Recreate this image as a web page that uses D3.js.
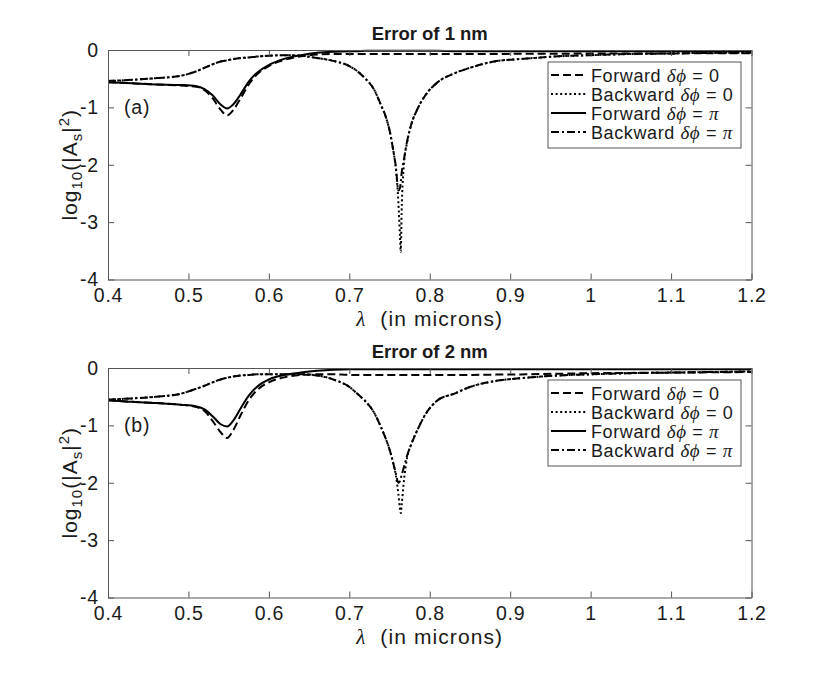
<!DOCTYPE html>
<html><head><meta charset="utf-8">
<script src="https://cdn.jsdelivr.net/npm/d3@7"></script>
<style>
body{margin:0;background:#fff}
text{font-family:"Liberation Sans",Arial,Helvetica,sans-serif;fill:#1a1a1a}
</style>
</head><body>
<svg id="chart" width="830" height="673"></svg>
<script>
// ---------- data ----------
const wavelengths = [0.40,0.43,0.46,0.49,0.51,0.52,0.53,0.54,0.548,0.555,0.565,0.575,0.585,0.60,0.62,0.64,0.66,0.68,0.70,0.71,0.72,0.73,0.74,0.745,0.75,0.755,0.758,0.761,0.763,0.764,0.765,0.768,0.772,0.777,0.785,0.795,0.81,0.83,0.85,0.88,0.92,0.96,1.0,1.05,1.1,1.15,1.2];

const panelTitles = ["Error of 1 nm", "Error of 2 nm"];
const panelTags = ["(a)", "(b)"];
const seriesNames = ["Forward", "Backward", "Forward", "Backward"];
const seriesPhases = ["0", "0", "\u03C0", "\u03C0"];
const xTicks = [0.4,0.5,0.6,0.7,0.8,0.9,1.0,1.1,1.2];
const yTicks = [0,-1,-2,-3,-4];

// panel (a): error of 1 nm
const fwd0A  = [-0.56,-0.58,-0.60,-0.62,-0.64,-0.70,-0.84,-1.04,-1.14,-1.06,-0.84,-0.60,-0.43,-0.28,-0.17,-0.11,-0.08,-0.07,-0.07,-0.07,-0.07,-0.07,-0.07,-0.07,-0.07,-0.07,-0.07,-0.07,-0.07,-0.07,-0.07,-0.07,-0.07,-0.07,-0.07,-0.07,-0.07,-0.07,-0.07,-0.07,-0.065,-0.065,-0.06,-0.06,-0.06,-0.055,-0.055];
const bwd0A  = [-0.54,-0.52,-0.49,-0.45,-0.37,-0.31,-0.25,-0.20,-0.18,-0.16,-0.14,-0.13,-0.115,-0.10,-0.09,-0.10,-0.14,-0.19,-0.28,-0.37,-0.50,-0.67,-0.98,-1.15,-1.40,-1.78,-2.08,-2.65,-3.25,-3.52,-2.85,-1.98,-1.60,-1.30,-1.02,-0.78,-0.56,-0.41,-0.31,-0.20,-0.15,-0.11,-0.09,-0.07,-0.06,-0.05,-0.05];
const fwdPiA = [-0.56,-0.58,-0.60,-0.61,-0.63,-0.68,-0.79,-0.95,-1.02,-0.96,-0.77,-0.55,-0.40,-0.26,-0.15,-0.09,-0.05,-0.03,-0.02,-0.02,-0.015,-0.015,-0.015,-0.015,-0.015,-0.015,-0.015,-0.015,-0.015,-0.015,-0.015,-0.015,-0.015,-0.015,-0.015,-0.015,-0.015,-0.02,-0.02,-0.02,-0.02,-0.02,-0.02,-0.02,-0.02,-0.02,-0.02];
const bwdPiA = [-0.54,-0.52,-0.49,-0.45,-0.37,-0.31,-0.25,-0.20,-0.18,-0.16,-0.14,-0.13,-0.115,-0.10,-0.09,-0.10,-0.14,-0.19,-0.28,-0.37,-0.50,-0.67,-0.98,-1.15,-1.40,-1.78,-2.05,-2.45,-2.40,-2.30,-2.15,-1.90,-1.58,-1.30,-1.02,-0.78,-0.56,-0.41,-0.31,-0.20,-0.15,-0.11,-0.09,-0.07,-0.06,-0.05,-0.05];

// panel (b): error of 2 nm
const fwd0B  = [-0.56,-0.59,-0.61,-0.64,-0.68,-0.75,-0.92,-1.12,-1.22,-1.10,-0.82,-0.56,-0.39,-0.25,-0.16,-0.12,-0.11,-0.11,-0.12,-0.12,-0.12,-0.12,-0.12,-0.12,-0.12,-0.12,-0.12,-0.12,-0.12,-0.12,-0.12,-0.12,-0.12,-0.12,-0.12,-0.12,-0.12,-0.12,-0.12,-0.115,-0.11,-0.10,-0.09,-0.085,-0.08,-0.075,-0.07];
const bwd0B  = [-0.55,-0.53,-0.50,-0.45,-0.36,-0.31,-0.25,-0.20,-0.17,-0.15,-0.13,-0.12,-0.11,-0.11,-0.11,-0.11,-0.13,-0.20,-0.33,-0.45,-0.58,-0.76,-1.05,-1.22,-1.42,-1.68,-1.88,-2.20,-2.45,-2.53,-2.40,-1.95,-1.55,-1.33,-1.07,-0.80,-0.56,-0.45,-0.33,-0.23,-0.17,-0.13,-0.11,-0.09,-0.08,-0.07,-0.06];
const fwdPiB = [-0.56,-0.59,-0.61,-0.64,-0.67,-0.72,-0.84,-0.98,-1.02,-0.93,-0.70,-0.48,-0.33,-0.20,-0.12,-0.08,-0.05,-0.03,-0.02,-0.02,-0.02,-0.02,-0.02,-0.02,-0.02,-0.02,-0.02,-0.02,-0.02,-0.02,-0.02,-0.02,-0.02,-0.02,-0.02,-0.02,-0.02,-0.02,-0.02,-0.02,-0.02,-0.02,-0.02,-0.02,-0.02,-0.02,-0.02];
const bwdPiB = [-0.55,-0.53,-0.50,-0.45,-0.36,-0.31,-0.25,-0.20,-0.17,-0.15,-0.13,-0.12,-0.11,-0.11,-0.11,-0.11,-0.13,-0.20,-0.33,-0.45,-0.58,-0.76,-1.05,-1.22,-1.42,-1.68,-1.85,-2.00,-1.97,-1.92,-1.87,-1.72,-1.52,-1.33,-1.07,-0.80,-0.56,-0.45,-0.33,-0.23,-0.17,-0.13,-0.11,-0.09,-0.08,-0.07,-0.06];

const panelSeries = [[fwd0A, bwd0A, fwdPiA, bwdPiA], [fwd0B, bwd0B, fwdPiB, bwdPiB]];

// ---------- styling / layout ----------
const dashes = ["8,4", "2,2.6", null, "8,3,2,3"];
const plotLeft = 108, plotRight = 751.5, plotH = 229.5;
const panelTops = [50, 368];
const sans = '"Liberation Sans",Arial,sans-serif';
const serif = '"Liberation Serif","DejaVu Serif",serif';

const svg = d3.select("#chart");
svg.append("rect").attr("width", 830).attr("height", 673).attr("fill", "#fff");

const x = d3.scaleLinear().domain([0.4, 1.2]).range([plotLeft, plotRight]);
const axisColor = "#555";

panelTops.forEach((top, p) => {
  const y = d3.scaleLinear().domain([-4, 0]).range([top + plotH, top]);
  const g = svg.append("g");

  const clipId = "clip" + p;
  svg.append("clipPath").attr("id", clipId).append("rect")
    .attr("x", plotLeft).attr("y", top - 1).attr("width", plotRight - plotLeft).attr("height", plotH + 2);

  // curves
  const line = d3.line().x(d => x(d[0])).y(d => y(d[1])).curve(d3.curveMonotoneX);
  const curves = g.append("g").attr("clip-path", `url(#${clipId})`);
  panelSeries[p].forEach((vals, i) => {
    curves.append("path")
      .datum(wavelengths.map((w, k) => [w, vals[k]]))
      .attr("d", line)
      .attr("fill", "none")
      .attr("stroke", "#000")
      .attr("stroke-width", 2)
      .attr("stroke-dasharray", dashes[i]);
  });

  // axes (ticks inward, box)
  const fmt = d => String(d);
  const styleAxis = sel => {
    sel.selectAll(".domain").attr("stroke", axisColor).attr("stroke-width", 1);
    sel.selectAll(".tick line").attr("stroke", axisColor).attr("stroke-width", 1);
    sel.selectAll(".tick text").attr("font-family", sans).attr("font-size", 19.5)
      .attr("letter-spacing", 0.8).attr("fill", "#1a1a1a");
  };
  g.append("g").attr("transform", `translate(0,${top + plotH})`)
    .call(d3.axisBottom(x).tickValues(xTicks).tickFormat(fmt).tickSizeInner(-6).tickSizeOuter(0).tickPadding(8.5))
    .call(styleAxis);
  g.append("g").attr("transform", `translate(0,${top})`)
    .call(d3.axisTop(x).tickValues(xTicks).tickFormat("").tickSizeInner(-6).tickSizeOuter(0))
    .call(styleAxis);
  g.append("g").attr("transform", `translate(${plotLeft},0)`)
    .call(d3.axisLeft(y).tickValues(yTicks).tickFormat(fmt).tickSizeInner(-6).tickSizeOuter(0).tickPadding(9))
    .call(styleAxis);
  g.append("g").attr("transform", `translate(${plotRight},0)`)
    .call(d3.axisRight(y).tickValues(yTicks).tickFormat("").tickSizeInner(-6).tickSizeOuter(0))
    .call(styleAxis);

  // title
  g.append("text").attr("x", (plotLeft + plotRight) / 2).attr("y", top - 10)
    .attr("text-anchor", "middle").attr("font-family", sans).attr("font-size", 18.5).attr("font-weight", "bold")
    .text(panelTitles[p]);

  // x label
  const xl = g.append("text").attr("x", (plotLeft + plotRight) / 2).attr("y", top + plotH + 46)
    .attr("text-anchor", "middle").attr("font-family", sans).attr("font-size", 21).attr("letter-spacing", 1.1);
  xl.append("tspan").attr("font-family", serif).attr("font-style", "italic").text("\u03BB");
  xl.append("tspan").text("\u00A0\u00A0(in microns)");

  // y label
  const cy = top + plotH / 2;
  const yl = g.append("text").attr("transform", `translate(77,${cy}) rotate(-90)`)
    .attr("text-anchor", "middle").attr("font-family", sans).attr("font-size", 21).attr("letter-spacing", 1);
  yl.append("tspan").text("log");
  yl.append("tspan").attr("font-size", 15).attr("dy", 5).text("10");
  yl.append("tspan").attr("dy", -5).text("(|A");
  yl.append("tspan").attr("font-size", 15).attr("dy", 5).text("s");
  yl.append("tspan").attr("dy", -5).text("|");
  yl.append("tspan").attr("font-size", 15).attr("dy", -8).text("2");
  yl.append("tspan").attr("dy", 8).text(")");

  // panel tag
  g.append("text").attr("x", 124).attr("y", y(-1) + 7).attr("font-family", sans)
    .attr("font-size", 19.5).attr("letter-spacing", 0.8).text(panelTags[p]);

  // legend
  const lx = 548, ly = top + 12, lw = 193, lh = 86;
  const leg = g.append("g");
  leg.append("rect").attr("x", lx).attr("y", ly).attr("width", lw).attr("height", lh)
    .attr("fill", "#fff").attr("stroke", axisColor).attr("stroke-width", 1);
  seriesNames.forEach((name, i) => {
    const ry = ly + 13 + i * 19;
    leg.append("line").attr("x1", lx + 3).attr("x2", lx + 38).attr("y1", ry).attr("y2", ry)
      .attr("stroke", "#000").attr("stroke-width", 2).attr("stroke-dasharray", dashes[i]);
    const t = leg.append("text").attr("x", lx + 43).attr("y", ry + 6.5).attr("font-family", sans)
      .attr("font-size", 18).attr("letter-spacing", 0.6);
    t.append("tspan").text(name + " ");
    t.append("tspan").attr("font-family", serif).attr("font-style", "italic").attr("font-size", 19).text("\u03B4\u03D5");
    t.append("tspan").text(" = ");
    if (seriesPhases[i] === "0") t.append("tspan").text(seriesPhases[i]);
    else t.append("tspan").attr("font-family", serif).attr("font-style", "italic").attr("font-size", 19).text(seriesPhases[i]);
  });
});
</script>
</body></html>
